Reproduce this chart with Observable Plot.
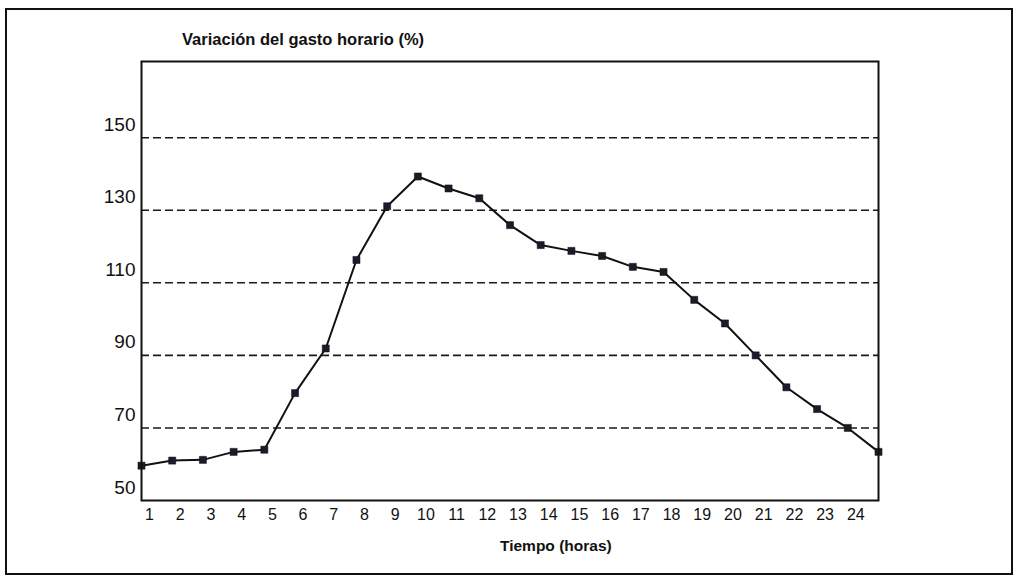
<!DOCTYPE html>
<html>
<head>
<meta charset="utf-8">
<script src="https://cdn.jsdelivr.net/npm/d3@7"></script>
<script src="https://cdn.jsdelivr.net/npm/@observablehq/plot@0.6"></script>
<style>
  body { margin: 0; background: #fff; }
  #wrap { position: relative; width: 1023px; height: 576px; overflow: hidden; background: #fff;
          font-family: "Liberation Sans", Arial, sans-serif; color: #111; }
  #outer { position: absolute; left: 5px; top: 8px; width: 1008px; height: 567px;
           border: 2px solid #111; box-sizing: border-box; }
  #title { position: absolute; left: 182px; top: 30px; font-size: 16.5px; font-weight: bold; white-space: nowrap; }
  #xtitle { position: absolute; left: 500px; top: 537px; font-size: 15.5px; font-weight: bold; white-space: nowrap; }
  #chart { position: absolute; left: 0; top: 0; }
</style>
</head>
<body>
<div id="wrap">
  <div id="outer"></div>
  <div id="chart"></div>
  <div id="title">Variación del gasto horario (%)</div>
  <div id="xtitle">Tiempo (horas)</div>
</div>
<script>
// Data
const hours = [1, 2, 3, 4, 5, 6, 7, 8, 9, 10, 11, 12, 13, 14, 15, 16, 17, 18, 19, 20, 21, 22, 23, 24, 25];
const variation = [59.6, 61.0, 61.2, 63.4, 64.0, 79.6, 91.9, 116.3, 131.1, 139.3, 136.0, 133.3, 125.9,
                   120.4, 118.8, 117.4, 114.4, 113.0, 105.3, 98.8, 90.0, 81.2, 75.2, 70.0, 63.4];
const xTickLabels = [1, 2, 3, 4, 5, 6, 7, 8, 9, 10, 11, 12, 13, 14, 15, 16, 17, 18, 19, 20, 21, 22, 23, 24];
const yTickLabels = [50, 70, 90, 110, 130, 150];
const gridValues = [70, 90, 110, 130, 150];

const data = hours.map((h, i) => ({hour: h, value: variation[i]}));

const chart = Plot.plot({
  width: 1023,
  height: 576,
  marginLeft: 141,
  marginRight: 145,
  marginTop: 61,
  marginBottom: 76,
  style: { background: "transparent", color: "#111", fontFamily: "'Liberation Sans', Arial, sans-serif" },
  x: { domain: [1, 25] },
  y: { domain: [50, 171] },
  marks: [
    Plot.ruleY(gridValues, { stroke: "#1a1a1a", strokeWidth: 1.6, strokeDasharray: "8,4" }),
    Plot.line(data, { x: "hour", y: "value", stroke: "#111", strokeWidth: 2 }),
    Plot.dot(data, { x: "hour", y: "value", symbol: "square", r: 4, fill: "#1b1b2a", stroke: "#111", strokeWidth: 0.5 }),
    Plot.frame({ stroke: "#111", strokeWidth: 2 }),
    Plot.axisY(yTickLabels, { tickSize: 0, tickPadding: 6, dy: -13, fontSize: 19, letterSpacing: 1.5, label: null, fill: "#111" }),
    Plot.axisX(xTickLabels, { tickSize: 0, tickPadding: 8, dx: 8, fontSize: 16, label: null, fill: "#111" })
  ]
});
document.getElementById("chart").appendChild(chart);
</script>
</body>
</html>
